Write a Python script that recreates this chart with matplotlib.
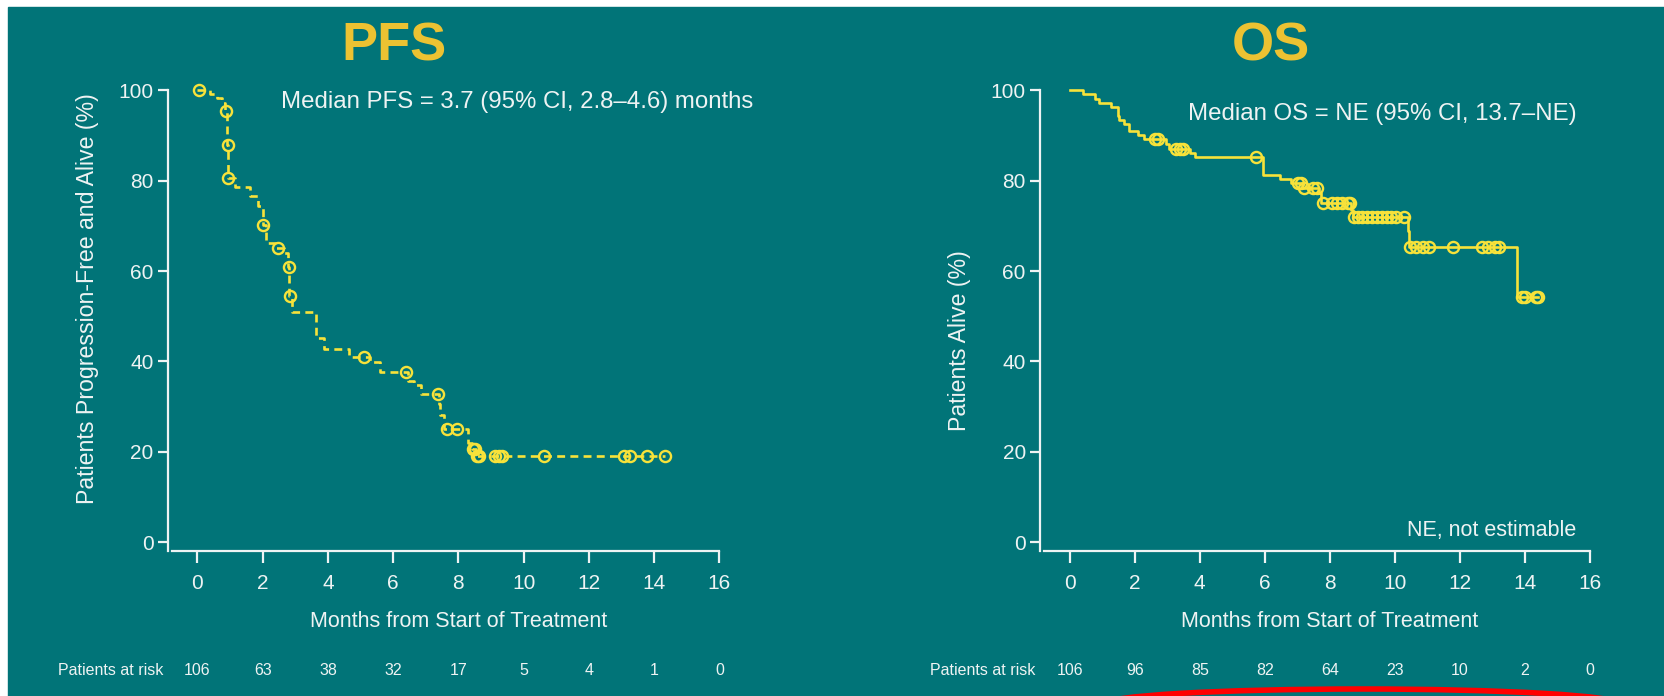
import matplotlib.pyplot as plt
import numpy as np
from matplotlib import font_manager
from matplotlib.patches import Rectangle, Ellipse

plt.rcParams['font.family'] = ['Liberation Sans', 'DejaVu Sans']

teal = '#017478'
gold = '#ECC232'
yellow = '#F7E23A'
light = '#EEF3F3'

months = np.arange(0, 17, 2)
pfs_risk = [106, 63, 38, 32, 17, 5, 4, 1, 0]
os_risk = [106, 96, 85, 82, 64, 23, 10, 2, 0]

# PFS: event times (months) and % progression-free after each drop
pfs_event_t = [0.4, 0.6, 0.75, 0.85, 0.91, 0.94, 1.15, 1.6, 1.85, 2.0, 2.1,
               2.4, 2.65, 2.78, 2.82, 2.9, 3.65, 3.88, 4.65, 5.3, 5.6, 6.45,
               6.65, 6.85, 7.4, 7.45, 7.55, 8.3, 8.42, 8.55]
pfs_event_s = [99.1, 98.2, 97.2, 95.5, 87.8, 80.5, 78.6, 76.5, 74.3, 70.2, 66.1,
               65.0, 64.1, 60.8, 54.4, 51.0, 45.1, 42.8, 41.0, 39.9, 37.6, 35.7,
               34.8, 32.7, 30.7, 28.2, 25.0, 21.9, 20.6, 19.2]
pfs_censor_t = [0.05, 0.89, 0.93, 0.95, 2.02, 2.47, 2.81, 2.84, 5.11, 6.38,
                7.37, 7.65, 7.96, 8.45, 8.52, 8.58, 8.62, 9.12, 9.25, 9.35,
                10.63, 13.09, 13.27, 13.79, 14.32]

# OS: event times (months) and % alive after each drop
os_event_t = [0.42, 0.78, 0.9, 1.27, 1.48, 1.52, 1.66, 1.81, 2.1, 2.3, 2.95,
              3.05, 3.7, 3.85, 5.96, 6.47, 6.8, 7.16, 7.66, 7.72, 8.66, 8.72,
              10.4, 10.44, 13.75]
os_event_s = [99.1, 98.1, 97.2, 96.3, 94.4, 93.5, 92.5, 91.0, 90.1, 89.2, 88.2,
              87.1, 86.1, 85.2, 81.2, 80.4, 79.4, 78.4, 77.3, 75.0, 73.6, 72.0,
              68.9, 65.4, 54.3]
os_censor_t = [2.63, 2.73, 3.27, 3.4, 3.5, 5.74, 7.02, 7.12, 7.2, 7.5, 7.6,
               7.8, 8.06, 8.21, 8.37, 8.55, 8.63, 8.76, 8.88, 9.0, 9.15, 9.3,
               9.45, 9.6, 9.75, 9.9, 10.05, 10.27, 10.46, 10.66, 10.88, 11.05,
               11.78, 12.68, 12.86, 13.07, 13.22, 13.9, 14.0, 14.35, 14.42]

names = {f.name for f in font_manager.fontManager.ttflist}
if 'Liberation Sans Narrow' in names:
    risk_font, risk_size = 'Liberation Sans Narrow', 13
else:
    risk_font, risk_size = 'Liberation Sans', 11.5


def km(ax, ev_t, ev_s, cens_t, ls):
    ev_t = np.asarray(ev_t)
    levels = np.r_[100, ev_s]
    end = max(cens_t)
    t = np.r_[0, ev_t, end]
    s = np.r_[levels, ev_s[-1]]
    ax.step(t, s, where='post', color=yellow, lw=1.9, ls=ls, zorder=3)
    idx = np.searchsorted(ev_t, cens_t, side='right')
    ax.plot(cens_t, levels[idx], 'o', ms=8, mfc='none', mec=yellow,
            mew=1.7, zorder=4, clip_on=False)


def style(ax, ylabel, risk):
    ax.set_facecolor('none')
    ax.set_xlim(-1.2, 16.4)
    ax.set_ylim(-4, 104)
    for side in ('top', 'right'):
        ax.spines[side].set_visible(False)
    ax.spines['left'].set_position(('data', -0.9))
    ax.spines['left'].set_bounds(-1.9, 100)
    ax.spines['bottom'].set_position(('data', -1.9))
    ax.spines['bottom'].set_bounds(-0.78, 16)
    for side in ('left', 'bottom'):
        ax.spines[side].set_color(light)
        ax.spines[side].set_linewidth(1.6)
    ax.set_xticks(months)
    ax.set_yticks(np.arange(0, 101, 20))
    ax.tick_params(axis='x', colors=light, labelsize=15, length=8.5, width=1.6, pad=8)
    ax.tick_params(axis='y', colors=light, labelsize=15, length=7.5, width=1.6, pad=3)
    ax.set_xlabel('Months from Start of Treatment', color=light, fontsize=15.5)
    ax.xaxis.set_label_coords(0.5227, -0.126)
    ax.xaxis.label.set_va('center')
    ax.set_ylabel(ylabel, color=light, fontsize=16.7)
    tr = ax.get_xaxis_transform()
    ax.text(-1.05, -0.226, 'Patients at risk', transform=tr, ha='right',
            va='center', color=light, fontsize=risk_size, family=risk_font)
    for m, n in zip(months, risk):
        ax.text(m, -0.226, str(n), transform=tr, ha='center', va='center',
                color=light, fontsize=risk_size, family=risk_font)


fig = plt.figure(figsize=(16.64, 6.96), dpi=100, facecolor='white')

bg = fig.add_axes([0, 0, 1, 1])
bg.set_xlim(0, 1664)
bg.set_ylim(696, 0)
bg.axis('off')
bg.add_patch(Rectangle((8, 7), 1656, 689, color=teal))
bg.add_patch(Ellipse((1362, 704), 515, 30, fill=False, ec='#FF0000', lw=4))

ax1 = fig.add_axes([0.0951, 0.1948, 0.3451, 0.7016])
ax2 = fig.add_axes([0.6194, 0.1948, 0.3438, 0.7016])

km(ax1, pfs_event_t, pfs_event_s, pfs_censor_t, (0, (3, 2)))
km(ax2, os_event_t, os_event_s, os_censor_t, '-')

style(ax1, 'Patients Progression-Free and Alive (%)', pfs_risk)
ax1.yaxis.set_label_coords(-0.104, 0.536)
style(ax2, 'Patients Alive (%)', os_risk)
ax2.yaxis.set_label_coords(-0.105, 0.45)

ax1.text(2.56, 97.4, 'Median PFS = 3.7 (95% CI, 2.8\u20134.6) months',
         color=light, fontsize=17.3, va='center')
ax2.text(3.63, 94.8, 'Median OS = NE (95% CI, 13.7\u2013NE)',
         color=light, fontsize=17.3, va='center')
ax2.text(15.59, 2.6, 'NE, not estimable', color=light, fontsize=15.5,
         ha='right', va='center')

fig.text(0.2366, 0.913, 'PFS', color=gold, fontsize=39, fontweight='bold',
         ha='center', va='baseline')
fig.text(0.7638, 0.913, 'OS', color=gold, fontsize=39, fontweight='bold',
         ha='center', va='baseline')

fig.savefig('out.png', dpi=100, facecolor=fig.get_facecolor())
